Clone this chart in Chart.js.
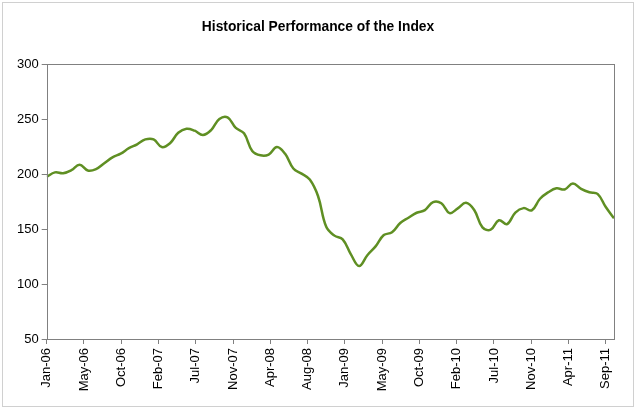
<!DOCTYPE html>
<html><head><meta charset="utf-8">
<script src="https://cdn.jsdelivr.net/npm/chart.js@4"></script>
<style>html,body{margin:0;padding:0;background:#fff}#wrap{width:636px;height:408px;position:relative}</style>
</head><body><div id="wrap"><canvas id="c" width="636" height="408"></canvas></div>
<script>
const chartTitle = 'Historical Performance of the Index';
const tickLabels = ['Jan-06','May-06','Oct-06','Feb-07','Jul-07','Nov-07','Apr-08','Aug-08','Jan-09','May-09','Oct-09','Feb-10','Jul-10','Nov-10','Apr-11','Sep-11'];
// monthly index values, Jan-06 .. Oct-11
const values = [197.5, 201.5, 200.8, 203.5, 208.5, 203.2, 204.5, 209.8, 215.2, 218.5,
  223.5, 227, 231.5, 231.5, 224.5, 228, 237.5, 241.2, 239.4, 235.5,
  240, 250, 251.5, 242, 237, 221, 217, 217.7, 224.5, 218.4,
  205, 200.4, 195, 180, 152, 144, 140.6, 127, 116.4, 126.2,
  134.2, 144.5, 147, 155.5, 160.3, 164.8, 167.2, 174.5, 173.4, 164.5,
  168.8, 173.9, 167.3, 151.5, 149.4, 158, 154.5, 165, 169, 167,
  177.5, 183.4, 187, 186, 191.5, 186.5, 183.4, 182, 170, 159.7];
const yMin = 50, yMax = 300, yStep = 50;
const tickSpan = 68; // months between first and last labelled tick

const FONT = "'Liberation Sans', Arial, sans-serif";

const framePlugin = {
  id: 'frame',
  beforeDraw(chart) {
    const c = chart.ctx;
    c.save(); c.fillStyle = '#fff'; c.fillRect(0, 0, chart.width, chart.height); c.restore();
  },
  afterDraw(chart) {
    const c = chart.ctx, a = chart.chartArea;
    c.save();
    c.strokeStyle = '#d0d0d0'; c.lineWidth = 1;
    c.strokeRect(2.5, 2.5, chart.width - 5, chart.height - 4);
    c.strokeStyle = '#808080';
    c.strokeRect(Math.round(a.left) + 0.5, Math.round(a.top) + 0.5, Math.round(a.right - a.left), Math.round(a.bottom - a.top));
    c.restore();
  }
};

new Chart(document.getElementById('c'), {
  type: 'line',
  data: { datasets: [{
    data: values.map((v, i) => ({ x: i, y: v })),
    borderColor: '#5f8f23', borderWidth: 2.5, pointRadius: 0, tension: 0.4, fill: false
  }] },
  options: {
    responsive: false, animation: false, devicePixelRatio: 1,
    layout: { padding: { left: 0, right: 0, top: 0, bottom: 0 } },
    plugins: {
      legend: { display: false }, tooltip: { enabled: false },
      title: { display: true, text: chartTitle, color: '#000',
        font: { family: FONT, size: 13.8, weight: 'bold' }, padding: { top: 19, bottom: 28.5 } }
    },
    scales: {
      x: {
        type: 'linear', min: 0, max: values.length - 1,
        afterBuildTicks: s => { s.ticks = tickLabels.map((l, i) => ({ value: i * tickSpan / (tickLabels.length - 1) })); },
        afterFit: s => { s.height = 69; },
        ticks: { autoSkip: false, minRotation: 90, maxRotation: 90, padding: 4, color: '#000',
          font: { family: FONT, size: 13 }, callback: (v, i) => tickLabels[i] },
        grid: { drawOnChartArea: false, drawTicks: true, tickLength: 5, color: '#808080' },
        border: { display: false }
      },
      y: {
        min: yMin, max: yMax,
        afterFit: s => { s.width = 46.7; },
        ticks: { stepSize: yStep, padding: 3, color: '#000', font: { family: FONT, size: 13 } },
        grid: { drawOnChartArea: false, drawTicks: true, tickLength: 5, color: '#808080' },
        border: { display: false }
      },
      yRight: {
        position: 'right', min: yMin, max: yMax,
        afterFit: s => { s.width = 22; },
        ticks: { display: false },
        grid: { display: false, drawTicks: false },
        border: { display: false }
      }
    }
  },
  plugins: [framePlugin]
});
</script></body></html>
